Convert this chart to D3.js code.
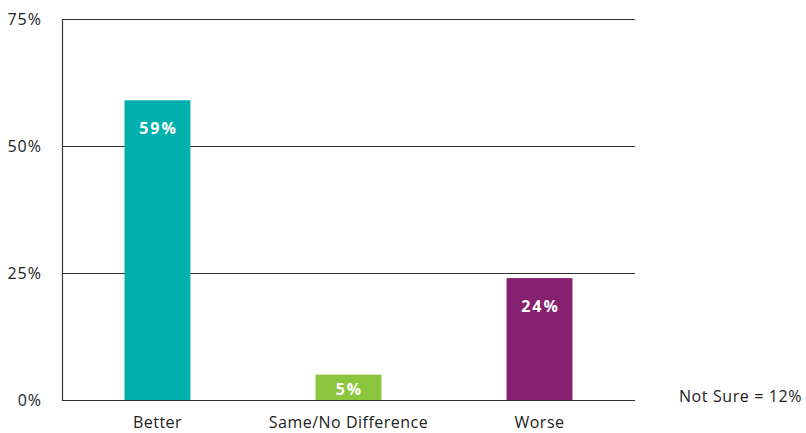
<!DOCTYPE html>
<html><head><meta charset="utf-8">
<script src="https://cdn.jsdelivr.net/npm/d3@7"></script>
<style>body{margin:0;background:#fff}svg{display:block}text{font-family:"Open Sans",sans-serif}</style>
</head><body><svg id="c" width="806" height="433"></svg>
<script>
const categories = ["Better", "Same/No Difference", "Worse"];
const values = [59, 5, 24];
const colors = ["#00b0ad", "#8cc63f", "#862070"];
const tickValues = [0, 25, 50, 75];
const note = "Not Sure = 12%";

const svg = d3.select("#c");
const mLeft = 62, mRight = 635, mTop = 19, mBottom = 400;
const x = d3.scaleBand().domain(categories).range([mLeft, mRight]).paddingInner(0.655).paddingOuter(0.3275);
const y = d3.scaleLinear().domain([0, 75]).range([mBottom, mTop]);

// gridlines
svg.append("g").selectAll("line").data(tickValues).join("line")
  .attr("x1", mLeft).attr("x2", mRight)
  .attr("y1", d => y(d) + 0.5).attr("y2", d => y(d) + 0.5)
  .attr("stroke", "#333").attr("stroke-width", 1.2);
// left axis line
svg.append("line").attr("x1", mLeft + 0.5).attr("x2", mLeft + 0.5).attr("y1", mTop).attr("y2", mBottom + 1)
  .attr("stroke", "#333").attr("stroke-width", 1.2);

// y tick labels
svg.append("g").selectAll("text").data(tickValues).join("text")
  .attr("x", 42).attr("y", d => y(d) + 6)
  .attr("text-anchor", "end").attr("font-size", 16).attr("fill", "#222")
  .attr("letter-spacing", 1)
  .text(d => d + "%");

// bars
svg.append("g").selectAll("rect").data(values).join("rect")
  .attr("x", (d, i) => x(categories[i]))
  .attr("width", x.bandwidth())
  .attr("y", d => y(d))
  .attr("height", d => y(0) - y(d))
  .attr("fill", (d, i) => colors[i]);

// value labels
svg.append("g").selectAll("text").data(values).join("text")
  .attr("x", (d, i) => x(categories[i]) + x.bandwidth() / 2 + 1)
  .attr("y", d => Math.min(y(d) + 34, y(0) - 5))
  .attr("text-anchor", "middle").attr("font-size", 16).attr("font-weight", "bold")
  .attr("fill", "#fff").attr("letter-spacing", 2)
  .text(d => d + "%");

// category labels
svg.append("g").selectAll("text").data(categories).join("text")
  .attr("x", d => x(d) + x.bandwidth() / 2)
  .attr("y", 428)
  .attr("text-anchor", "middle").attr("font-size", 16).attr("fill", "#222")
  .attr("letter-spacing", 0.5)
  .text(d => d);

svg.append("text").attr("x", 802).attr("y", 402).attr("text-anchor", "end")
  .attr("font-size", 16).attr("fill", "#222").attr("letter-spacing", 0.6).text(note);
</script></body></html>
